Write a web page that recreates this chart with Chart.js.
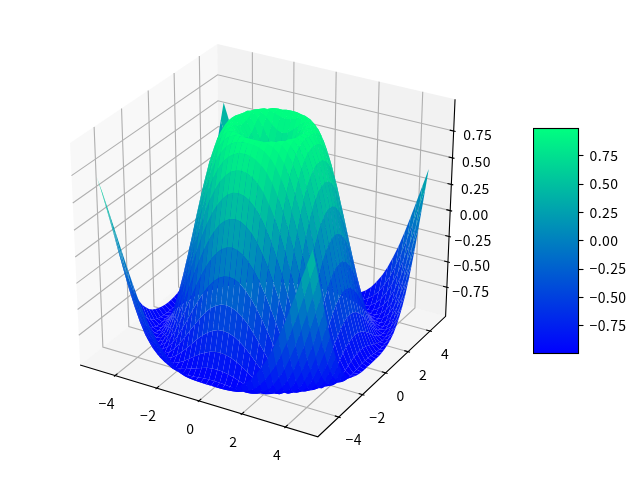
<!DOCTYPE html>
<html>
<head>
<meta charset="utf-8">
<title>Surface</title>
<script src="https://cdn.jsdelivr.net/npm/chart.js@4/dist/chart.umd.min.js"></script>
<style>
  body { margin: 0; background: #fff; }
  #surface { position: absolute; left: 0; top: 0; }
  #colorbar { position: absolute; left: 533px; top: 118px; }
</style>
</head>
<body>
<canvas id="surface" width="640" height="480"></canvas>
<canvas id="colorbar" width="107" height="245"></canvas>
<script>
var xGrid = [
  -5, -4.75, -4.5, -4.25, -4, -3.75, -3.5, -3.25, -3, -2.75, -2.5, -2.25, -2, -1.75, -1.5, -1.25, -1, -0.75, -0.5, -0.25,
  0, 0.25, 0.5, 0.75, 1, 1.25, 1.5, 1.75, 2, 2.25, 2.5, 2.75, 3, 3.25, 3.5, 3.75, 4, 4.25, 4.5, 4.75,
];
var yGrid = xGrid;

// heights by grid steps from the centre, zTable[far][near], the surface is symmetric
var zTable = [
  [0],
  [0.247, 0.346],
  [0.479, 0.530, 0.650],
  [0.682, 0.711, 0.784, 0.873],
  [0.841, 0.858, 0.900, 0.949, 0.988],
  [0.949, 0.957, 0.975, 0.994, 1.000, 0.981],
  [0.997, 0.999, 1.000, 0.994, 0.973, 0.928, 0.853],
  [0.984, 0.981, 0.969, 0.945, 0.903, 0.836, 0.742, 0.619],
  [0.909, 0.903, 0.882, 0.845, 0.787, 0.706, 0.598, 0.464, 0.308],
  [0.778, 0.770, 0.742, 0.697, 0.629, 0.537, 0.425, 0.288, 0.131, -0.040],
  [0.598, 0.588, 0.558, 0.507, 0.434, 0.340, 0.225, 0.090, -0.060, -0.220, -0.384],
  [0.382, 0.372, 0.340, 0.288, 0.214, 0.120, 0.009, -0.118, -0.256, -0.400, -0.544, -0.680],
  [0.141, 0.131, 0.100, 0.049, -0.021, -0.108, -0.211, -0.325, -0.449, -0.572, -0.691, -0.800, -0.891],
  [-0.108, -0.118, -0.146, -0.192, -0.256, -0.334, -0.423, -0.522, -0.626, -0.724, -0.818, -0.898, -0.956, -0.993],
  [-0.351, -0.359, -0.384, -0.423, -0.477, -0.544, -0.620, -0.698, -0.777, -0.853, -0.917, -0.966, -0.995, -0.998, -0.972],
  [-0.572, -0.578, -0.598, -0.630, -0.674, -0.724, -0.783, -0.840, -0.895, -0.943, -0.979, -0.998, -0.996, -0.970, -0.914, -0.831],
  [-0.757, -0.762, -0.777, -0.800, -0.831, -0.867, -0.905, -0.941, -0.971, -0.992, -1.000, -0.990, -0.959, -0.905, -0.825, -0.718, -0.586],
  [-0.895, -0.898, -0.907, -0.923, -0.941, -0.959, -0.979, -0.993, -1.000, -0.996, -0.976, -0.940, -0.884, -0.802, -0.700, -0.576, -0.430, -0.269],
  [-0.977, -0.979, -0.983, -0.989, -0.995, -0.999, -0.999, -0.993, -0.978, -0.949, -0.907, -0.848, -0.767, -0.670, -0.550, -0.413, -0.258, -0.093, 0.081],
  [-0.999, -0.999, -0.998, -0.996, -0.990, -0.981, -0.964, -0.940, -0.905, -0.856, -0.791, -0.713, -0.618, -0.503, -0.374, -0.231, -0.073, 0.091, 0.256, 0.421],
  [-0.959, -0.957, -0.951, -0.941, -0.926, -0.905, -0.875, -0.833, -0.782, -0.718, -0.636, -0.545, -0.437, -0.316, -0.179, -0.033, 0.119, 0.273, 0.425, 0.575, 0.708],
];

var xTicks = [-4, -2, 0, 2, 4];
var yTicks = [-4, -2, 0, 2, 4];
var zTicks = [-0.75, -0.5, -0.25, 0, 0.25, 0.5, 0.75];
var xTickLabels = ["\u22124", "\u22122", "0", "2", "4"];
var yTickLabels = ["\u22124", "\u22122", "0", "2", "4"];
var zTickLabels = ["\u22120.75", "\u22120.50", "\u22120.25", "0.00", "0.25", "0.50", "0.75"];
var colorbarRange = [-0.995, 0.99];

var xLim = [-5.4875, 5.2375];
var yLim = [-5.4875, 5.2375];
var zLim = [-1, 1];
var paneMargin = 1 / 48;
var tickFamily = '"Noto Sans CJK SC"';
var tickSize = 14;
var tickSpacing = "0.4px";

// camera for elev 30, azim -60, dist 10
var camU = [0.866025, 0.5, 0];
var camV = [-0.25, 0.433013, 0.866025];
var camW = [0.433013, -0.75, 0.5];
var camDist = 10;

function view(x, y, z) {
  var q = [
    (x - xLim[0]) / (xLim[1] - xLim[0]) - 0.5,
    (y - yLim[0]) / (yLim[1] - yLim[0]) - 0.5,
    (z - zLim[0]) / (zLim[1] - zLim[0]) - 0.5,
  ];
  var depth = camDist - (q[0] * camW[0] + q[1] * camW[1] + q[2] * camW[2]);
  return {
    x: (q[0] * camU[0] + q[1] * camU[1] + q[2] * camU[2]) / depth,
    y: (q[0] * camV[0] + q[1] * camV[1] + q[2] * camV[2]) / depth,
    depth: depth,
  };
}

function heightAt(i, j) {
  var a = Math.abs(i - 20);
  var b = Math.abs(j - 20);
  return a >= b ? zTable[a][b] : zTable[b][a];
}

var xPad = (xLim[1] - xLim[0]) * paneMargin;
var yPad = (yLim[1] - yLim[0]) * paneMargin;
var zPad = (zLim[1] - zLim[0]) * paneMargin;
var x0 = xLim[0] - xPad, x1 = xLim[1] + xPad;
var y0 = yLim[0] - yPad, y1 = yLim[1] + yPad;
var z0 = zLim[0] - zPad, z1 = zLim[1] + zPad;

function polygon(corners, color) {
  return {
    polygon: true,
    data: corners.map(function (c) { return view(c[0], c[1], c[2]); }),
    backgroundColor: color,
    showLine: false,
    pointRadius: 0,
  };
}

function polyline(corners, color) {
  return {
    data: corners.map(function (c) { return view(c[0], c[1], c[2]); }),
    borderColor: color,
    borderWidth: 1.11,
    showLine: true,
    fill: false,
    pointRadius: 0,
  };
}

// back to front, reversed at the end since chart.js paints the first dataset last
var layers = [];
layers.push(polygon([[x0, y0, z0], [x0, y1, z0], [x0, y1, z1], [x0, y0, z1]], "rgba(242,242,242,0.5)"));
layers.push(polygon([[x0, y1, z0], [x1, y1, z0], [x1, y1, z1], [x0, y1, z1]], "rgba(230,230,230,0.5)"));
layers.push(polygon([[x0, y0, z0], [x1, y0, z0], [x1, y1, z0], [x0, y1, z0]], "rgba(236,236,236,0.5)"));

var gridColor = "rgb(176,176,176)";
xTicks.forEach(function (t) {
  layers.push(polyline([[t, y0, z0], [t, y1, z0], [t, y1, z1]], gridColor));
});
yTicks.forEach(function (t) {
  layers.push(polyline([[x1, t, z0], [x0, t, z0], [x0, t, z1]], gridColor));
});
zTicks.forEach(function (t) {
  layers.push(polyline([[x0, y0, t], [x0, y1, t], [x1, y1, t]], gridColor));
});

layers.push(polyline([[x0, y0, z0], [x1, y0, z0], [x1, y1, z0], [x1, y1, z1]], "#000"));

var xTickOut = (xLim[1] - xLim[0]) / 12 * 0.1, xTickIn = (xLim[1] - xLim[0]) / 12 * 0.2;
var yTickOut = (yLim[1] - yLim[0]) / 12 * 0.1, yTickIn = (yLim[1] - yLim[0]) / 12 * 0.2;
xTicks.forEach(function (t) {
  layers.push(polyline([[t, y0 - yTickOut, z0], [t, y0 + yTickIn, z0]], "#000"));
});
yTicks.forEach(function (t) {
  layers.push(polyline([[x1 + xTickOut, t, z0], [x1 - xTickIn, t, z0]], "#000"));
});
zTicks.forEach(function (t) {
  layers.push(polyline([[x1 + xTickOut, y1, t], [x1 - xTickIn, y1, t]], "#000"));
});

// surface faces, painter's order by mean depth
var faces = [];
var zMin = Infinity, zMax = -Infinity;
for (var i = 0; i < xGrid.length - 1; i++) {
  for (var j = 0; j < yGrid.length - 1; j++) {
    var corners = [
      [xGrid[i], yGrid[j], heightAt(i, j)],
      [xGrid[i + 1], yGrid[j], heightAt(i + 1, j)],
      [xGrid[i + 1], yGrid[j + 1], heightAt(i + 1, j + 1)],
      [xGrid[i], yGrid[j + 1], heightAt(i, j + 1)],
    ];
    var mean = (corners[0][2] + corners[1][2] + corners[2][2] + corners[3][2]) / 4;
    var depth = 0;
    corners.forEach(function (c) { depth += view(c[0], c[1], c[2]).depth / 4; });
    faces.push({ corners: corners, mean: mean, depth: depth });
    zMin = Math.min(zMin, mean);
    zMax = Math.max(zMax, mean);
  }
}
faces.sort(function (a, b) { return b.depth - a.depth; });

// winter colormap
function winter(t) {
  return "rgb(0," + Math.round(255 * t) + "," + Math.round(255 * (1 - 0.5 * t)) + ")";
}
faces.forEach(function (f) {
  layers.push(polygon(f.corners, winter((f.mean - zMin) / (zMax - zMin))));
});
layers.reverse();

var polygonFill = {
  id: "polygonFill",
  beforeDatasetDraw: function (chart, args) {
    var ds = chart.data.datasets[args.index];
    if (!ds.polygon) return;
    var ctx = chart.ctx;
    ctx.save();
    ctx.beginPath();
    args.meta.data.forEach(function (p, n) {
      if (n === 0) ctx.moveTo(p.x, p.y);
      else ctx.lineTo(p.x, p.y);
    });
    ctx.closePath();
    ctx.fillStyle = ds.backgroundColor;
    ctx.fill();
    ctx.restore();
  },
};

var axisLabels = {
  id: "axisLabels",
  afterDatasetsDraw: function (chart) {
    var ctx = chart.ctx;
    var sx = chart.scales.x, sy = chart.scales.y;
    function put(text, p, dx, dy) {
      ctx.fillText(text, sx.getPixelForValue(p.x) + dx, sy.getPixelForValue(p.y) + dy);
    }
    ctx.save();
    ctx.font = tickSize + "px " + tickFamily;
    ctx.letterSpacing = tickSpacing;
    ctx.fillStyle = "#000";
    ctx.textAlign = "center";
    ctx.textBaseline = "middle";
    xTicks.forEach(function (t, n) { put(xTickLabels[n], view(t, y0, z0), -8.5, 28); });
    yTicks.forEach(function (t, n) { put(yTickLabels[n], view(x1, t, z0), 15, 23); });
    zTicks.forEach(function (t, n) { put(zTickLabels[n], view(x1, y1, t), 24, 4); });
    ctx.restore();
  },
};

new Chart(document.getElementById("surface").getContext("2d"), {
  type: "scatter",
  data: { datasets: layers },
  plugins: [polygonFill, axisLabels],
  options: {
    responsive: false,
    animation: false,
    events: [],
    layout: { padding: 0 },
    plugins: { legend: { display: false }, tooltip: { enabled: false } },
    scales: {
      x: { type: "linear", display: false, min: -265.8 / 2634.6, max: 374.2 / 2634.6 },
      y: { type: "linear", display: false, min: -246.6 / 2431, max: 233.4 / 2431 },
    },
  },
});

// colorbar, one floating bar with the colormap as gradient
new Chart(document.getElementById("colorbar").getContext("2d"), {
  type: "bar",
  data: {
    labels: [""],
    datasets: [{
      data: [colorbarRange],
      categoryPercentage: 1,
      barPercentage: 1,
      backgroundColor: function (c) {
        var area = c.chart.chartArea;
        if (!area) return "#00f";
        var g = c.chart.ctx.createLinearGradient(0, area.bottom, 0, area.top);
        g.addColorStop(0, winter(0));
        g.addColorStop(1, winter(1));
        return g;
      },
    }],
  },
  plugins: [{
    id: "colorbarFrame",
    beforeDraw: function (chart) { chart.ctx.letterSpacing = tickSpacing; },
    afterDatasetsDraw: function (chart) {
      var a = chart.chartArea;
      chart.ctx.save();
      chart.ctx.strokeStyle = "#000";
      chart.ctx.lineWidth = 1.11;
      chart.ctx.strokeRect(a.left, a.top, a.right - a.left, a.bottom - a.top);
      chart.ctx.restore();
    },
  }],
  options: {
    responsive: false,
    animation: false,
    events: [],
    layout: { padding: { top: 10.5, bottom: 9.5, left: 0.5, right: 0 } },
    plugins: { legend: { display: false }, tooltip: { enabled: false } },
    scales: {
      x: { display: false },
      y: {
        position: "right",
        min: colorbarRange[0],
        max: colorbarRange[1],
        afterBuildTicks: function (scale) {
          scale.ticks = zTicks.map(function (v) { return { value: v }; });
        },
        afterFit: function (scale) {
          scale.width = 61.5;
          scale.paddingTop = 0;
          scale.paddingBottom = 0;
        },
        border: { display: false },
        grid: { drawOnChartArea: false, tickLength: 5, tickColor: "#000", tickWidth: 1.11 },
        ticks: {
          color: "#000",
          padding: 6,
          font: { family: tickFamily, size: tickSize },
          callback: function (v) { return zTickLabels[zTicks.indexOf(v)]; },
        },
      },
    },
  },
});
</script>
</body>
</html>
